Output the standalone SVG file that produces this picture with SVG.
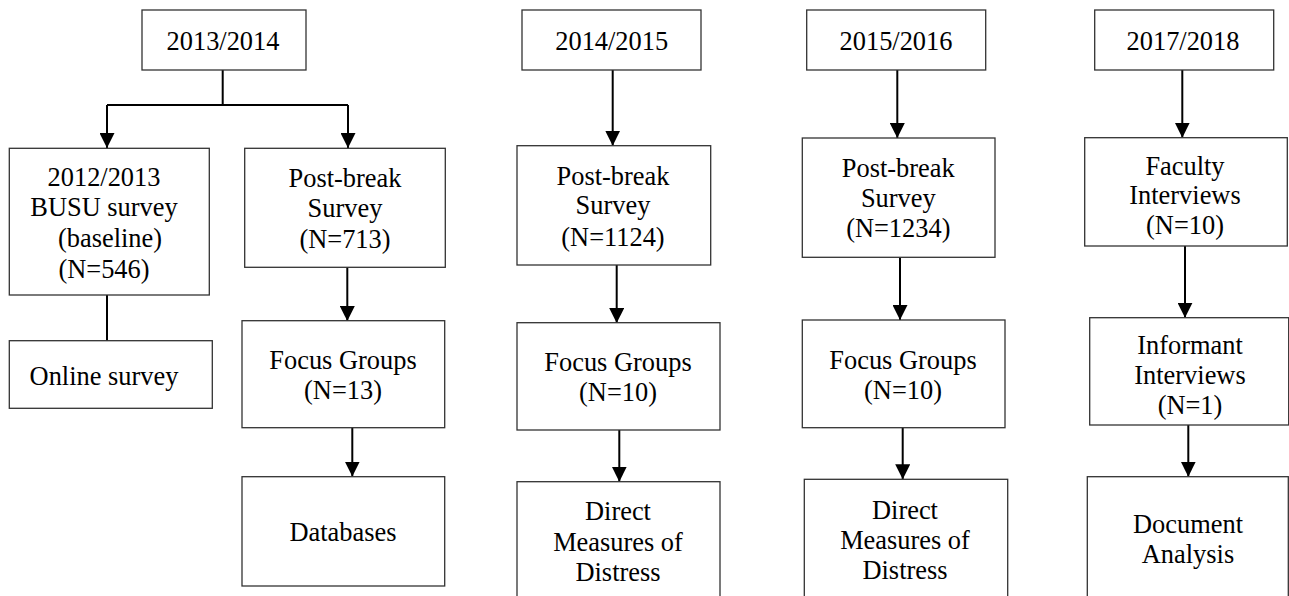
<svg xmlns="http://www.w3.org/2000/svg" width="1289" height="596" viewBox="0 0 1289 596">
<defs>
<style>
.box{fill:#fff;stroke:#333;stroke-width:1.3}
.t{font-family:"Liberation Serif","Times New Roman",serif;font-size:26.4px;fill:#000;text-anchor:middle}
.c{fill:none;stroke:#000;stroke-width:2}
</style>
<marker id="ah" markerUnits="userSpaceOnUse" markerWidth="15" markerHeight="15" refX="15" refY="7.5" orient="auto" viewBox="0 0 15 15">
<path d="M0,0 L15,7.5 L0,15 z" fill="#000"/>
</marker>
</defs>
<rect width="1289" height="596" fill="#fff"/>
<g id="connectors">
<path class="c" d="M222.7,70 V105 M107,105 H348"/>
<path class="c" d="M107,105 V148" marker-end="url(#ah)"/>
<path class="c" d="M348,105 V148" marker-end="url(#ah)"/>
<path class="c" d="M107,295 V341"/>
<path class="c" d="M347.3,267.3 V321" marker-end="url(#ah)"/>
<path class="c" d="M352.3,427.7 V476.5" marker-end="url(#ah)"/>
<path class="c" d="M612.7,70 V145.7" marker-end="url(#ah)"/>
<path class="c" d="M616.7,265 V323" marker-end="url(#ah)"/>
<path class="c" d="M619.3,430 V481.7" marker-end="url(#ah)"/>
<path class="c" d="M897.3,70 V138" marker-end="url(#ah)"/>
<path class="c" d="M900,257.3 V320" marker-end="url(#ah)"/>
<path class="c" d="M902.7,427.7 V479.3" marker-end="url(#ah)"/>
<path class="c" d="M1182.3,70 V137.7" marker-end="url(#ah)"/>
<path class="c" d="M1185,246 V317.7" marker-end="url(#ah)"/>
<path class="c" d="M1188.3,425 V476.7" marker-end="url(#ah)"/>
</g>
<g id="n2013">
<rect class="box" x="142" y="10" width="164" height="60"/>
<text class="t" x="223" y="50">2013/2014</text>
</g>
<g id="nbusu">
<rect class="box" x="9.3" y="148.3" width="200" height="146.7"/>
<text class="t" x="104" y="185.5">2012/2013</text>
<text class="t" x="104" y="216">BUSU survey</text>
<text class="t" x="110" y="246.5">(baseline)</text>
<text class="t" x="104" y="277.5">(N=546)</text>
</g>
<g id="nonline">
<rect class="box" x="9.3" y="340.7" width="203" height="67.6"/>
<text class="t" x="104" y="385">Online survey</text>
</g>
<g id="npb713">
<rect class="box" x="244.7" y="148.3" width="200.6" height="119"/>
<text class="t" x="345" y="186.5">Post-break</text>
<text class="t" x="345" y="216.5">Survey</text>
<text class="t" x="345" y="247.5">(N=713)</text>
</g>
<g id="nfg13">
<rect class="box" x="242" y="320.7" width="202.7" height="107"/>
<text class="t" x="343" y="369">Focus Groups</text>
<text class="t" x="343" y="399">(N=13)</text>
</g>
<g id="ndb">
<rect class="box" x="242" y="476.7" width="202.7" height="109.3"/>
<text class="t" x="343" y="540.7">Databases</text>
</g>
<g id="n2014">
<rect class="box" x="522" y="10" width="179" height="60"/>
<text class="t" x="611.7" y="50">2014/2015</text>
</g>
<g id="npb1124">
<rect class="box" x="517" y="145.7" width="193.7" height="119.3"/>
<text class="t" x="613" y="185">Post-break</text>
<text class="t" x="613" y="214">Survey</text>
<text class="t" x="613" y="246">(N=1124)</text>
</g>
<g id="nfg10a">
<rect class="box" x="517" y="322.7" width="203" height="107.3"/>
<text class="t" x="618" y="371">Focus Groups</text>
<text class="t" x="618" y="401">(N=10)</text>
</g>
<g id="ndma">
<rect class="box" x="517" y="481.7" width="203" height="130"/>
<text class="t" x="618" y="520">Direct</text>
<text class="t" x="618" y="550.5">Measures of</text>
<text class="t" x="618" y="581">Distress</text>
</g>
<g id="n2015">
<rect class="box" x="806.7" y="10" width="179" height="60"/>
<text class="t" x="896" y="50">2015/2016</text>
</g>
<g id="npb1234">
<rect class="box" x="802.3" y="138" width="192.7" height="119.3"/>
<text class="t" x="898.3" y="176.5">Post-break</text>
<text class="t" x="898.3" y="206.5">Survey</text>
<text class="t" x="898.3" y="236.5">(N=1234)</text>
</g>
<g id="nfg10b">
<rect class="box" x="802.3" y="320" width="202.7" height="107.7"/>
<text class="t" x="903" y="369">Focus Groups</text>
<text class="t" x="903" y="398.5">(N=10)</text>
</g>
<g id="ndmb">
<rect class="box" x="804.3" y="479.3" width="203.4" height="130"/>
<text class="t" x="905" y="518.5">Direct</text>
<text class="t" x="905" y="548.5">Measures of</text>
<text class="t" x="905" y="578.5">Distress</text>
</g>
<g id="n2017">
<rect class="box" x="1094.7" y="10" width="179" height="60"/>
<text class="t" x="1183" y="50">2017/2018</text>
</g>
<g id="nfac">
<rect class="box" x="1084.7" y="137.7" width="202.6" height="108.3"/>
<text class="t" x="1185" y="175">Faculty</text>
<text class="t" x="1185" y="204">Interviews</text>
<text class="t" x="1185" y="234">(N=10)</text>
</g>
<g id="ninf">
<rect class="box" x="1089.7" y="317.7" width="199" height="107.3"/>
<text class="t" x="1190" y="353.5">Informant</text>
<text class="t" x="1190" y="383.5">Interviews</text>
<text class="t" x="1190" y="414">(N=1)</text>
</g>
<g id="ndoc">
<rect class="box" x="1087.3" y="476.7" width="201" height="130"/>
<text class="t" x="1188" y="532.7">Document</text>
<text class="t" x="1188" y="562.7">Analysis</text>
</g>
</svg>
